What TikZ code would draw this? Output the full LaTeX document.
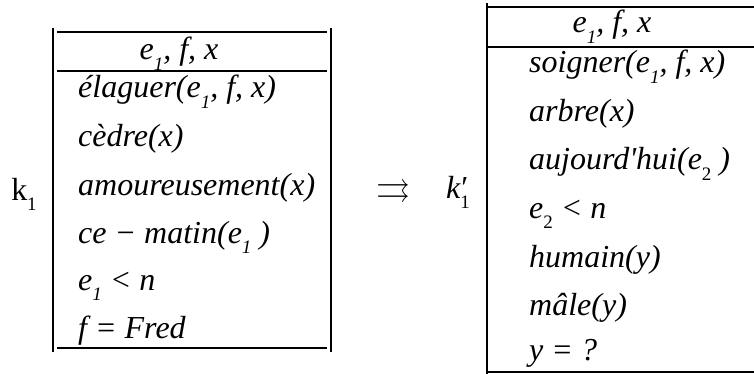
\documentclass[tikz,border=0pt]{standalone}
\usepackage{fontspec}
\setmainfont{Liberation Serif}[ItalicFont={Liberation Serif Italic},BoldFont={Liberation Serif Bold}]
\usepackage{amssymb}
\newcommand\lsub[1]{\raisebox{-0.32em}{\fontsize{19pt}{19pt}\selectfont #1}}
\tikzset{
  rowtxt/.style={anchor=base west, inner sep=0pt, font=\fontsize{32pt}{32pt}\selectfont\itshape},
  headtxt/.style={anchor=base, inner sep=0pt, font=\fontsize{32pt}{32pt}\selectfont\itshape},
  lbl/.style={anchor=base, inner sep=0pt, font=\fontsize{32pt}{32pt}\selectfont},
  rule/.style={line width=2.2pt},
}
\begin{document}
\begin{tikzpicture}[x=1pt,y=-1pt]
\useasboundingbox (0,0) rectangle (754,374);
% left box
\coordinate (lvt) at (53,28); \coordinate (lvb) at (53,352);
\coordinate (rvt) at (331,28); \coordinate (rvb) at (331,352);
\draw[rule] (lvt) -- (lvb);
\draw[rule] (rvt) -- (rvb);
\coordinate (lt1) at (57,32); \coordinate (lt2) at (327,32);
\coordinate (lh1) at (57,71); \coordinate (lh2) at (327,71);
\coordinate (lb1) at (57,348); \coordinate (lb2) at (327,348);
\draw[rule] (lt1) -- (lt2);
\draw[rule] (lh1) -- (lh2);
\draw[rule] (lb1) -- (lb2);
\node[headtxt] (lhead) at (179,60) {e\lsub{1}, f, x};
\node[rowtxt] (l1) at (78,98) {élaguer(e\lsub{1}, f, x)};
\node[rowtxt] (l2) at (78,147) {cèdre(x)};
\node[rowtxt] (l3) at (78,195) {amoureusement(x)};
\node[rowtxt] (l4) at (78,243) {ce − matin(e\lsub{1} )};
\node[rowtxt] (l5) at (78,290) {e\lsub{1} < n};
\node[rowtxt] (l6) at (78,338) {f = Fred};
\node[lbl] (k1) at (24,200) {k\lsub{1}};
% arrow
\node[lbl, font=\fontsize{34pt}{34pt}\selectfont] (arr) at (393,199) {$\rightrightarrows$};
\node[lbl] (k1p) at (458,198) {\itshape k\rlap{\upshape\kern1pt ′}\lsub{\upshape 1}};
% right box
\coordinate (rlt) at (487,3); \coordinate (rlb) at (487,374);
\draw[rule] (rlt) -- (rlb);
\coordinate (rt1) at (487,7); \coordinate (rt2) at (754,7);
\coordinate (rh1) at (487,47); \coordinate (rh2) at (754,47);
\coordinate (rb1) at (487,372); \coordinate (rb2) at (754,372);
\draw[rule] (rt1) -- (rt2);
\draw[rule] (rh1) -- (rh2);
\draw[rule] (rb1) -- (rb2);
\node[headtxt] (rhead) at (612,33) {e\lsub{1}, f, x};
\node[rowtxt] (r1) at (529,73) {soigner(e\lsub{1}, f, x)};
\node[rowtxt] (r2) at (529,122) {arbre(x)};
\node[rowtxt] (r3) at (529,170) {aujourd\textquotesingle hui(e\lsub{\upshape 2} )};
\node[rowtxt] (r4) at (529,218) {e\lsub{\upshape 2} < n};
\node[rowtxt] (r5) at (529,267) {humain(y)};
\node[rowtxt] (r6) at (529,315) {mâle(y)};
\node[rowtxt] (r7) at (529,360) {y = ?};
\end{tikzpicture}
\end{document}
